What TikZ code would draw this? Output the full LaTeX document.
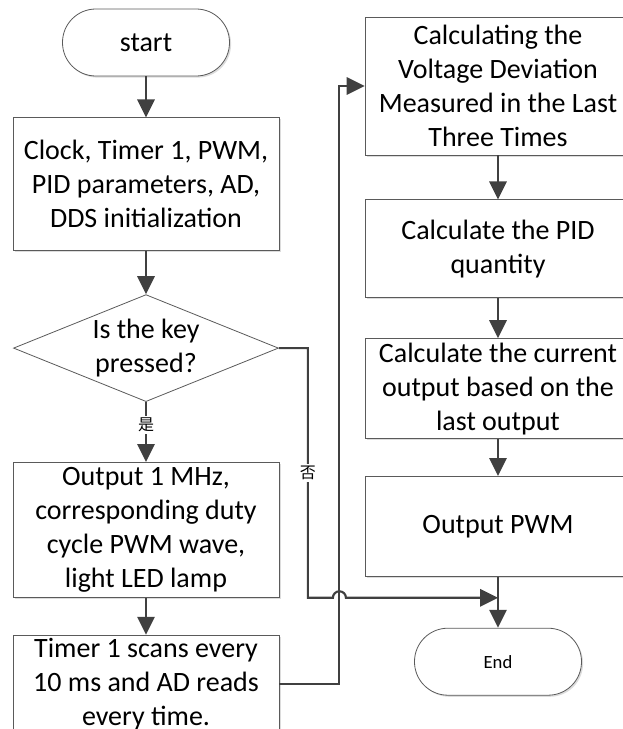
\documentclass[tikz,border=0pt]{standalone}
\usepackage{fontspec}
\setmainfont{Carlito}
\newfontfamily\cjk{Noto Sans CJK SC}
\usetikzlibrary{shapes.geometric, arrows.meta, positioning, calc, shadows}
\definecolor{lineGray}{HTML}{404040}
\definecolor{edgeGray}{HTML}{5A5A5A}
\definecolor{shadeGray}{HTML}{DCDCDC}

\begin{document}
\begin{tikzpicture}[
    x=0.75pt, y=0.75pt,
    font=\fontsize{21}{25.5}\selectfont,
    procbox/.style={rectangle, draw=edgeGray, line width=0.6pt, fill=white, minimum width=199.5pt, align=center, inner sep=0pt,
        drop shadow={shadow xshift=1.2pt, shadow yshift=-1.2pt, fill=shadeGray, opacity=1}},
    termbox/.style={rectangle, rounded corners=25pt, draw=edgeGray, line width=0.6pt, fill=white, minimum width=125.25pt, minimum height=50.25pt,
        drop shadow={shadow xshift=1.2pt, shadow yshift=-1.2pt, fill=shadeGray, opacity=1}},
    decbox/.style={diamond, aspect=2.48, draw=edgeGray, line width=0.6pt, fill=white, minimum width=198.75pt, minimum height=80.25pt, align=center, inner sep=0pt},
    arrow/.style={-{Triangle[length=13.5pt, width=13pt]}, line width=1.6pt, draw=lineGray},
    tag/.style={font=\cjk\fontsize{12}{14}\selectfont, fill=white, inner sep=1.5pt}
]
\useasboundingbox (0,0) rectangle (623,-729);

% left column
\node[termbox] (start) at (146,-42.5) {start};
\node[procbox, minimum height=99.75pt, below=30.75pt of start] (init) {Clock, Timer 1, PWM,\\PID parameters, AD,\\DDS initialization};
\node[decbox, below=32.25pt of init] (key) {Is the key\\pressed?};
\node[procbox, minimum height=101.25pt, below=45pt of key] (out) {Output 1 MHz,\\corresponding duty\\cycle PWM wave,\\light LED lamp};
\node[procbox, minimum height=73.5pt, below=27.75pt of out] (scan) {Timer 1 scans every\\10 ms and AD reads\\every time.\rule[-3pt]{0pt}{1pt}};

% right column
\node[procbox, minimum height=103.5pt] (dev) at (498,-86) {Calculating the\\Voltage Deviation\\Measured in the Last\\Three Times};
\node[procbox, minimum height=73.5pt, below=33pt of dev] (pid) {Calculate the PID\\quantity};
\node[procbox, minimum height=75pt, below=30pt of pid] (cur) {Calculate the current\\output based on the\\last output};
\node[procbox, minimum height=75pt, below=27.75pt of cur] (pwm) {Output PWM};
\node[termbox, font=\fontsize{14}{16}\selectfont, below=38.25pt of pwm] (stop) {End};

\draw[arrow] (start) -- (init);
\draw[arrow] (init) -- (key);
\draw[arrow] (key) -- node[tag, pos=0.38] {是} (out);
\draw[arrow] (out) -- (scan);
\draw[arrow] (dev) -- (pid);
\draw[arrow] (pid) -- (cur);
\draw[arrow] (cur) -- (pwm);
\draw[arrow] (pwm) -- (stop);

% loop back to the right column
\coordinate (loopx) at ([xshift=45pt]scan.east);
\draw[arrow] (scan.east) -- (loopx) |- (dev.west);

% "no" branch, hopping over the loop line
\coordinate (nobend) at ([xshift=21.75pt]key.east);
\draw[arrow] (key.east) -- (nobend) -- node[tag] {否} (nobend |- out.south)
    -- ($(loopx |- out.south)+(-4.9pt,0)$) arc[start angle=180, end angle=0, radius=4.9pt]
    -- (stop.north |- out.south);

\end{tikzpicture}
\end{document}
